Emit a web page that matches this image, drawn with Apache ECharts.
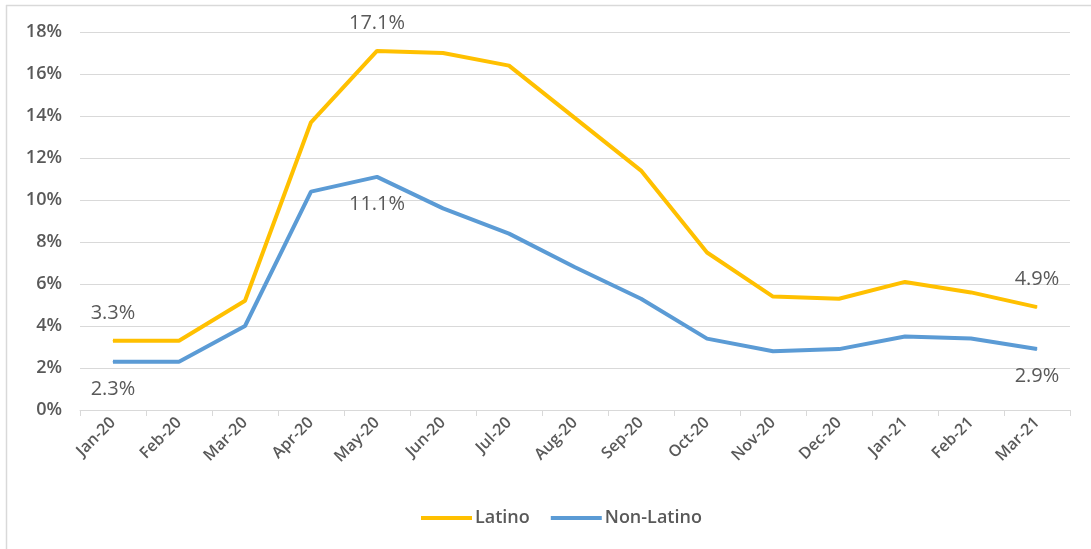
<!DOCTYPE html>
<html>
<head>
<meta charset="utf-8">
<script src="https://cdn.jsdelivr.net/npm/echarts@6/dist/echarts.min.js"></script>
<style>
  html, body { margin: 0; padding: 0; background: #fff; }
  #chart { width: 1091px; height: 549px; }
</style>
</head>
<body>
<div id="chart"></div>
<script>
// Monthly unemployment rate (%) by ethnicity
const months = ['Jan-20','Feb-20','Mar-20','Apr-20','May-20','Jun-20','Jul-20','Aug-20',
                'Sep-20','Oct-20','Nov-20','Dec-20','Jan-21','Feb-21','Mar-21'];
const latino    = [3.3, 3.3, 5.2, 13.7, 17.1, 17.0, 16.4, 13.9, 11.4, 7.5, 5.4, 5.3, 6.1, 5.6, 4.9];
const nonLatino = [2.3, 2.3, 4.0, 10.4, 11.1, 9.6, 8.4, 6.8, 5.3, 3.4, 2.8, 2.9, 3.5, 3.4, 2.9];
const yTicks = [0, 2, 4, 6, 8, 10, 12, 14, 16, 18];
// points that carry a value label
const labelled = [0, 4, 14];

const textColor = '#595959';
const font = '"Open Sans", "Liberation Sans", sans-serif';

function withLabels(values, position) {
  return values.map((v, i) => labelled.includes(i)
    ? { value: v, label: { show: true, position: position, distance: 17,
        formatter: p => p.value.toFixed(1) + '%',
        color: textColor, fontSize: 20, fontFamily: font } }
    : v);
}

const chart = echarts.init(document.getElementById('chart'));
chart.setOption({
  animation: false,
  backgroundColor: '#fff',
  grid: { left: 80, right: 21, top: 32, bottom: 139, containLabel: false },
  graphic: [
    { type: 'line', shape: { x1: 6, y1: 5.5, x2: 1091, y2: 5.5 }, style: { stroke: '#d9d9d9', lineWidth: 1.5 } },
    { type: 'line', shape: { x1: 6.5, y1: 5, x2: 6.5, y2: 549 }, style: { stroke: '#d9d9d9', lineWidth: 1.5 } }
  ],
  legend: {
    bottom: 17,
    left: 416,
    icon: 'rect',
    itemWidth: 51,
    itemHeight: 4,
    itemGap: 21,
    textStyle: { color: textColor, fontSize: 18, fontWeight: 600, fontFamily: font, padding: [0, 0, 0, -2] },
    data: ['Latino', 'Non-Latino']
  },
  xAxis: {
    type: 'category',
    data: months,
    boundaryGap: true,
    axisLine: { lineStyle: { color: '#d9d9d9', width: 1 } },
    axisTick: { show: true, length: 6, lineStyle: { color: '#d9d9d9' }, alignWithLabel: false },
    axisLabel: { rotate: 45, margin: 10, color: textColor, fontSize: 16, fontWeight: 600, fontFamily: font, interval: 0 }
  },
  yAxis: {
    type: 'value',
    min: yTicks[0],
    max: yTicks[yTicks.length - 1],
    interval: 2,
    axisLine: { show: false },
    axisTick: { show: false },
    splitLine: { lineStyle: { color: '#d9d9d9', width: 1 } },
    axisLabel: { margin: 18, color: textColor, fontSize: 18, fontWeight: 600, fontFamily: font,
                 formatter: v => v + '%' }
  },
  series: [
    {
      name: 'Latino',
      type: 'line',
      data: withLabels(latino, 'top'),
      color: '#FFC000',
      lineStyle: { width: 4, color: '#FFC000' },
      symbol: 'circle',
      symbolSize: 1,
      showSymbol: true,
      emphasis: { disabled: true },
      z: 3
    },
    {
      name: 'Non-Latino',
      type: 'line',
      data: withLabels(nonLatino, 'bottom'),
      color: '#5B9BD5',
      lineStyle: { width: 4, color: '#5B9BD5' },
      symbol: 'circle',
      symbolSize: 1,
      showSymbol: true,
      emphasis: { disabled: true },
      z: 2
    }
  ]
});
</script>
</body>
</html>
